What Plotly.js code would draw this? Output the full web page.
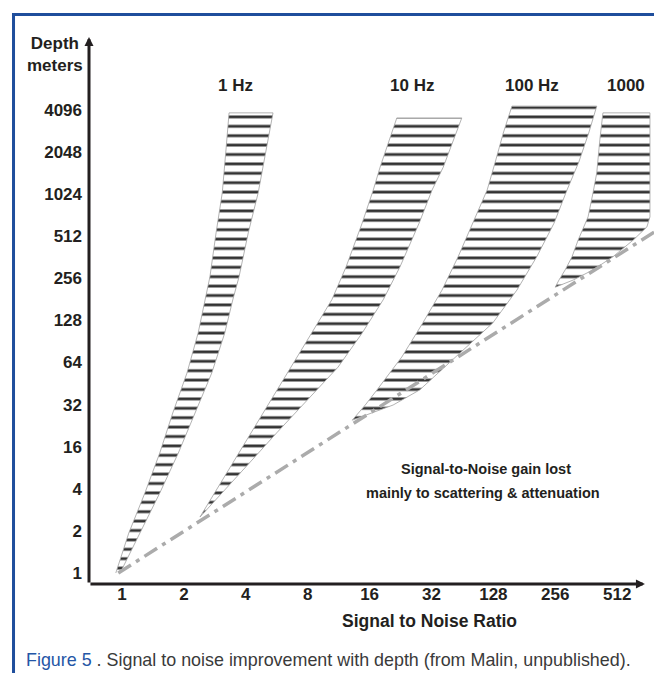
<!DOCTYPE html>
<html>
<head>
<meta charset="utf-8">
<script src="https://cdn.plot.ly/plotly-3.0.1.min.js"></script>
<style>
  html, body { margin: 0; padding: 0; background: #ffffff; }
  #chart { width: 654px; height: 673px; }
</style>
</head>
<body>
<div id="chart"></div>
<script>
// ---- tick labels (evenly spaced, as printed on the original figure) ----
const xTickLabels = ['1', '2', '4', '8', '16', '32', '128', '256', '512'];
const yTickLabels = ['1', '2', '4', '16', '32', '64', '128', '256', '512', '1024', '2048', '4096'];

// ---- bands: depth position and low / high signal-to-noise position (axis tick units) ----
const band1Depth = [0, 0.95, 1.90, 2.85, 3.80, 4.75, 5.70, 6.49, 7.03, 8.08, 9.03, 10.05, 10.93];
const band1Low   = [-0.10, 0.11, 0.37, 0.61, 0.82, 1.05, 1.23, 1.34, 1.42, 1.52, 1.62, 1.68, 1.73];
const band1High  = [-0.03, 0.29, 0.61, 0.91, 1.18, 1.45, 1.66, 1.79, 1.89, 2.04, 2.20, 2.33, 2.44];

const band10Depth = [1.33, 2.52, 3.33, 4.11, 4.89, 5.70, 6.49, 7.27, 8.31, 9.10, 9.64, 10.81];
const band10Low   = [1.26, 1.75, 2.08, 2.41, 2.73, 3.07, 3.39, 3.62, 3.88, 4.06, 4.17, 4.44];
const band10High  = [1.26, 2.00, 2.50, 2.99, 3.49, 3.88, 4.22, 4.49, 4.80, 5.01, 5.19, 5.49];

const band100Depth = [3.63, 3.99, 4.35, 5.13, 5.94, 6.72, 7.51, 8.31, 9.10, 9.76, 10.45, 11.09];
const band100Low   = [3.72, 3.93, 4.12, 4.52, 4.86, 5.17, 5.43, 5.67, 5.90, 6.03, 6.16, 6.30];
const band100High  = [3.72, 4.38, 4.81, 5.38, 5.99, 6.38, 6.70, 6.98, 7.19, 7.38, 7.54, 7.67];

const band1000Depth = [6.79, 6.96, 7.20, 7.51, 7.91, 8.22, 8.46, 9.03, 9.50, 10.29, 10.93];
const band1000Low   = [7.00, 7.06, 7.16, 7.27, 7.37, 7.46, 7.53, 7.61, 7.67, 7.72, 7.77];
const band1000High  = [7.00, 7.29, 7.61, 7.93, 8.26, 8.48, 8.53, 8.53, 8.53, 8.53, 8.53];

// ---- loss line (dash-dot) ----
const lossSNR   = [-0.06, 8.6];
const lossDepth = [0, 8.1];

// ---- band names ----
const bandNames     = ['1 Hz', '10 Hz', '100 Hz', '1000'];
const bandNameSNR   = [1.84, 4.68, 6.62, 8.14];
const bandNameDepth = [11.57, 11.57, 11.57, 11.57];

const FONT = 'Liberation Sans, Arial, Helvetica, sans-serif';
const INK = '#231f20';

function bandTrace(depth, low, high) {
  return {
    type: 'scatter',
    mode: 'lines',
    x: low.concat(high.slice().reverse()),
    y: depth.concat(depth.slice().reverse()),
    fill: 'toself',
    fillcolor: '#ffffff',
    fillpattern: { shape: '-', fgcolor: '#333333', bgcolor: '#ffffff', size: 9.4, solidity: 0.3 },
    line: { color: '#a0a0a0', width: 0.8 },
    hoverinfo: 'skip',
    showlegend: false
  };
}

const traces = [
  bandTrace(band1Depth, band1Low, band1High),
  bandTrace(band10Depth, band10Low, band10High),
  bandTrace(band100Depth, band100Low, band100High),
  bandTrace(band1000Depth, band1000Low, band1000High),
  {
    type: 'scatter', mode: 'lines', x: lossSNR, y: lossDepth,
    line: { color: '#ababab', width: 3.5, dash: '15px,6px,4px,6px' },
    hoverinfo: 'skip', showlegend: false
  }
];

const annotations = [];
bandNames.forEach((t, i) => annotations.push({
  x: bandNameSNR[i], y: bandNameDepth[i], xref: 'x', yref: 'y',
  text: t, showarrow: false, xanchor: 'center', yanchor: 'middle',
  font: { family: FONT, size: 17, color: INK, weight: 'bold' }
}));

annotations.push(
  { x: 5.88, y: 2.47, xref: 'x', yref: 'y', text: 'Signal-to-Noise gain lost', showarrow: false,
    xanchor: 'center', yanchor: 'middle', font: { family: FONT, size: 14.5, color: INK, weight: 'bold' } },
  { x: 5.83, y: 1.90, xref: 'x', yref: 'y', text: 'mainly to scattering &amp; attenuation', showarrow: false,
    xanchor: 'center', yanchor: 'middle', font: { family: FONT, size: 14.5, color: INK, weight: 'bold' } },
  // axis title x
  { x: 0.602, y: -0.0676, xref: 'paper', yref: 'paper', text: 'Signal to Noise Ratio', showarrow: false,
    xanchor: 'center', yanchor: 'middle', font: { family: FONT, size: 17.5, color: INK, weight: 'bold' } },
  // axis title y
  { x: -0.0602, y: 0.968, xref: 'paper', yref: 'paper', text: 'Depth<br>meters', showarrow: false,
    xanchor: 'center', yanchor: 'middle', align: 'center',
    font: { family: FONT, size: 17, color: INK, weight: 'bold' } },
  // caption
  { x: -0.115, y: -0.139, xref: 'paper', yref: 'paper', showarrow: false, xanchor: 'left', yanchor: 'middle',
    text: '<span style="color:#2456a6">Figure 5</span> . Signal to noise improvement with depth (from Malin, unpublished).',
    font: { family: FONT, size: 17.9, color: '#3a3a3a' } },
  // y axis arrow
  { x: 0, y: 1, xref: 'paper', yref: 'paper', ax: 0, ay: 547, text: '', showarrow: true,
    arrowhead: 2, arrowsize: 0.6, arrowwidth: 3, arrowcolor: INK, standoff: 0 },
  // x axis arrow
  { x: 0.984, y: 0, xref: 'paper', yref: 'paper', ax: -556, ay: 0, text: '', showarrow: true,
    arrowhead: 2, arrowsize: 0.6, arrowwidth: 3, arrowcolor: INK, standoff: 0 }
);

const shapes = [
  { type: 'line', xref: 'paper', yref: 'paper', x0: -0.1363, x1: 1.0, y0: 1.0411, y1: 1.0411,
    line: { color: '#1f4e9c', width: 3 } },
  { type: 'line', xref: 'paper', yref: 'paper', x0: -0.1336, x1: -0.1336, y0: 1.0439, y1: -0.1627,
    line: { color: '#1f4e9c', width: 3 } }
];

const layout = {
  width: 654, height: 673,
  margin: { l: 89, r: 0, t: 37, b: 89, pad: 0 },
  paper_bgcolor: '#ffffff', plot_bgcolor: '#ffffff',
  showlegend: false,
  xaxis: {
    range: [-0.533, 8.595], showgrid: false, zeroline: false, showline: false,
    tickmode: 'array', tickvals: xTickLabels.map((_, i) => i), ticktext: xTickLabels,
    ticks: '', ticklabelstandoff: -2,
    tickfont: { family: FONT, size: 17, color: INK, weight: 'bold' }
  },
  yaxis: {
    range: [-0.261, 12.732], showgrid: false, zeroline: false, showline: false,
    tickmode: 'array', tickvals: yTickLabels.map((_, i) => i), ticktext: yTickLabels,
    ticks: '', ticklabelstandoff: 6,
    tickfont: { family: FONT, size: 17, color: INK, weight: 'bold' }
  },
  annotations: annotations,
  shapes: shapes
};

Plotly.newPlot('chart', traces, layout, { displayModeBar: false, staticPlot: true });
</script>
</body>
</html>
